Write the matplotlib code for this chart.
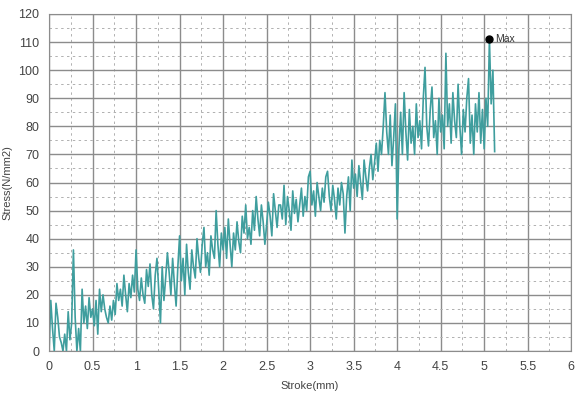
import numpy as np
import matplotlib.pyplot as plt
from matplotlib.ticker import MultipleLocator

plt.rcParams['font.family'] = ['Liberation Sans Narrow', 'Liberation Sans', 'DejaVu Sans']

# stress readings (N/mm2), one sample every 0.02 mm of stroke
step = 0.02
stress = [
    0, 18, 8, 0, 17, 12, 5, 3, 0, 6, 0, 14, 4, 10, 36, 12, 0, 8, 0, 22, 10, 16, 8, 19, 12,
    15, 9, 18, 6, 22, 14, 20, 15, 12, 10, 16, 11, 18, 13, 24, 18, 22, 16, 27, 20, 14, 24, 19, 27, 21,
    36, 22, 18, 26, 20, 17, 29, 23, 31, 20, 15, 27, 33, 22, 10, 30, 18, 26, 35, 28, 20, 33, 24, 16, 30,
    41, 25, 33, 20, 38, 28, 22, 36, 30, 26, 40, 33, 28, 38, 44, 30, 35, 27, 41, 36, 33, 50, 38, 30, 42,
    36, 44, 33, 47, 38, 30, 42, 36, 46, 39, 35, 48, 42, 52, 40, 44, 38, 50, 43, 55, 47, 41, 52, 46, 38,
    45, 53, 48, 41, 56, 50, 44, 52, 52, 47, 59, 45, 55, 50, 43, 57, 49, 54, 46, 52, 58, 48, 55, 50, 62,
    64, 52, 57, 48, 60, 55, 50, 58, 53, 62, 64, 55, 50, 59, 54, 47, 58, 52, 60, 56, 42, 55, 62, 50, 68,
    58, 63, 55, 66, 60, 54, 68, 62, 57, 65, 70, 61, 67, 74, 64, 75, 70, 80, 92, 78, 70, 84, 66, 76, 88,
    47, 72, 85, 70, 92, 78, 68, 86, 74, 80, 70, 88, 76, 82, 72, 90, 101, 80, 73, 86, 94, 76, 82, 70, 90,
    78, 84, 72, 106, 80, 88, 74, 92, 82, 76, 95, 80, 70, 86, 78, 90, 97, 74, 84, 70, 88, 78, 92, 74, 86,
    72, 90, 80, 111, 88, 100, 71,
]
stroke = np.arange(len(stress)) * step

fig, ax = plt.subplots(figsize=(5.77, 4), dpi=100)
fig.subplots_adjust(left=0.085, right=0.99, bottom=0.1225, top=0.965)

ax.plot(stroke, stress, color="#3f9e9e", lw=1.2)

# mark the peak
i = int(np.argmax(stress))
ax.plot(stroke[i], stress[i], "o", color="black", ms=5, zorder=5)
ax.text(stroke[i] + 0.06, stress[i], "Max", fontsize=7.5, color="#333333", va="center")

ax.set_xlim(0, 6)
ax.set_ylim(0, 120)
ax.xaxis.set_major_locator(MultipleLocator(0.5))
ax.xaxis.set_minor_locator(MultipleLocator(0.25))
ax.yaxis.set_major_locator(MultipleLocator(10))
ax.yaxis.set_minor_locator(MultipleLocator(5))
ax.xaxis.set_major_formatter(plt.FuncFormatter(lambda v, p: "%g" % v))

ax.grid(which="major", color="#8c8c8c", lw=1.0)
ax.grid(which="minor", color="#b0b0b0", lw=0.7, ls=(0, (2.5, 3.5)))
ax.set_axisbelow(True)
for s in ax.spines.values():
    s.set_color("#8c8c8c")

ax.tick_params(which="both", length=0, labelsize=9, labelcolor="#444444", pad=7)
ax.set_xlabel("Stroke(mm)", fontsize=8, color="#444444", labelpad=6)
ax.set_ylabel("Stress(N/mm2)", fontsize=8, color="#444444", labelpad=4)

plt.savefig("out.png", dpi=100)
